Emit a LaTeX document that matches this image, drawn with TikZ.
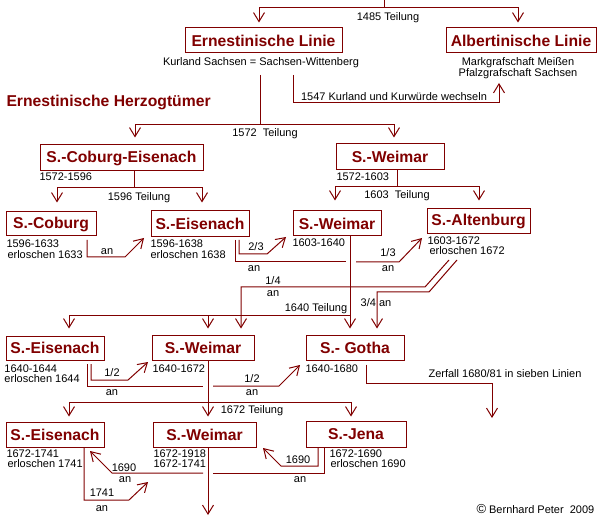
\documentclass[tikz,border=0pt]{standalone}
\usepackage{fontspec}
\setmainfont{Liberation Sans}
\usetikzlibrary{arrows.meta}
\definecolor{mr}{HTML}{800000}
\begin{document}
\begin{tikzpicture}[x=1pt,y=-1pt,line width=1pt,color=mr,
  box/.style={draw=mr,text=mr,font=\fontsize{15.7}{18}\selectfont\bfseries,inner sep=0pt,line width=1pt},
  lbl/.style={text=black,font=\fontsize{11}{12}\selectfont,inner sep=0pt,text height=8pt,text depth=0pt},
  lw/.style={lbl,anchor=west},
  arr/.style={-{Straight Barb[length=9pt,width=11pt]}}]
\useasboundingbox (0,0) rectangle (599,518);
% boxes
\node[box,minimum width=157pt,minimum height=25pt] (ern) at (263.5,40.5) {Ernestinische Linie};
\node[box,minimum width=150pt,minimum height=25pt] (alb) at (521,40.5) {Albertinische Linie};
\node[box,minimum width=163pt,minimum height=26pt] (sce) at (121.5,158) {S.-Coburg-Eisenach};
\node[box,minimum width=108pt,minimum height=26pt] (sw1) at (390,157) {S.-Weimar};
\node[box,minimum width=90pt,minimum height=24pt] (scob) at (51,224) {S.-Coburg};
\node[box,minimum width=98pt,minimum height=26pt] (sei1) at (200,224) {S.-Eisenach};
\node[box,minimum width=88pt,minimum height=25pt] (sw2) at (337,223.5) {S.-Weimar};
\node[box,minimum width=103pt,minimum height=25pt] (salt) at (478.5,221.5) {S.-Altenburg};
\node[box,minimum width=98pt,minimum height=24pt] (sei2) at (55,348) {S.-Eisenach};
\node[box,minimum width=102pt,minimum height=25pt] (sw3) at (203,347.5) {S.-Weimar};
\node[box,minimum width=98pt,minimum height=25pt] (sgo) at (355,347.5) {S.- Gotha};
\node[box,minimum width=98pt,minimum height=25pt] (sei3) at (55,434.5) {S.-Eisenach};
\node[box,minimum width=103pt,minimum height=25pt] (sw4) at (204.5,434.5) {S.-Weimar};
\node[box,minimum width=100pt,minimum height=26pt] (sjena) at (356,434) {S.-Jena};
% heading
\node[font=\fontsize{15.7}{18}\selectfont\bfseries,text=mr,inner sep=0pt,anchor=base west] (head) at (6,107) {Ernestinische Herzogtümer};
% labels
\node[lbl] (t1485) at (388,17) {1485 Teilung};
\node[lbl] (tkur) at (261,62) {Kurland Sachsen = Sachsen-Wittenberg};
\node[lbl] (tmark) at (518,62) {Markgrafschaft Meißen};
\node[lbl] (tpfalz) at (518,73) {Pfalzgrafschaft Sachsen};
\node[lbl] (t1547) at (394,97) {1547 Kurland und Kurwürde wechseln};
\node[lbl] (t1572) at (265,133) {1572\ \ Teilung};
\node[lw] (d1) at (39,177) {1572-1596};
\node[lw] (d2) at (336,177) {1572-1603};
\node[lbl] (t1596) at (139,197) {1596 Teilung};
\node[lbl] (t1603) at (397,195) {1603\ \ Teilung};
\node[lw] (d3) at (6,244) {1596-1633};
\node[lw] (d3b) at (7,255) {erloschen 1633};
\node[lw] (d4) at (150,244) {1596-1638};
\node[lw] (d4b) at (150,255) {erloschen 1638};
\node[lw] (d5) at (292,243) {1603-1640};
\node[lw] (d6) at (427,241) {1603-1672};
\node[lw] (d6b) at (429,251) {erloschen 1672};
\node[lbl] (a1) at (107,251) {an};
\node[lbl] (f23) at (256,247) {2/3};
\node[lbl] (a2) at (254,268) {an};
\node[lbl] (f13) at (388,253) {1/3};
\node[lbl] (a3) at (388,268) {an};
\node[lbl] (f14) at (273,281) {1/4};
\node[lbl] (a4) at (273,293) {an};
\node[lbl] (t1640) at (316,307) {1640 Teilung};
\node[lbl] (f34) at (376,302) {3/4 an};
\node[lw] (d7) at (4,368) {1640-1644};
\node[lw] (d7b) at (4,378) {erloschen 1644};
\node[lw] (d8) at (152,368) {1640-1672};
\node[lw] (d9) at (305,368) {1640-1680};
\node[lbl] (f12a) at (112,372) {1/2};
\node[lbl] (a5) at (112,391) {an};
\node[lbl] (f12b) at (252,378) {1/2};
\node[lbl] (a6) at (252,391) {an};
\node[lbl] (tzer) at (505,373) {Zerfall 1680/81 in sieben Linien};
\node[lbl] (t1672) at (252,409) {1672 Teilung};
\node[lw] (d10) at (6,453) {1672-1741};
\node[lw] (d10b) at (7,463) {erloschen 1741};
\node[lw] (d11) at (153,453) {1672-1918};
\node[lw] (d11b) at (153,463) {1672-1741};
\node[lw] (d12) at (329,453) {1672-1690};
\node[lw] (d12b) at (330,463) {erloschen 1690};
\node[lbl] (y1) at (124,467) {1690};
\node[lbl] (a7) at (125,478) {an};
\node[lbl] (a8) at (300,478) {an};
\node[lbl] (y2) at (298,459) {1690};
\node[lbl] (y3) at (102,492) {1741};
\node[lbl] (a9) at (102,507) {an};
\node[lw] (copy) at (476,509) {{\fontsize{13}{12}\selectfont\textcopyright}\ Bernhard Peter\ \ 2009};
% connectors
\draw[arr,shorten >=5pt] (384,0) |- (259,8) -- (259,0 |- ern.north);
\draw[arr,shorten >=5pt] (384,8) -| (518,0 |- alb.north);
\draw[arr,shorten >=7pt] (260,75) |- (135,125) -- (135,0 |- sce.north);
\draw[arr,shorten >=6pt] (260,125) -| (394,0 |- sw1.north);
\draw[arr] (293,75) |- (499,103) -- (499,83);
\draw[arr,shorten >=9pt] (134,0 |- sce.south) |- (57,188) -- (57,0 |- scob.north);
\draw[arr,shorten >=8pt] (134,188) -| (202,0 |- sei1.north);
\draw[arr,shorten >=10pt] (397,0 |- sw1.south) |- (335,187) -- (335,0 |- sw2.north);
\draw[arr,shorten >=8pt] (397,187) -| (479,0 |- salt.north);
\draw[arr] (87,240) -- (87,257) -- (125,257) -- (144,238);
\draw[arr] (239,240) -- (239,254) -- (267,254) -- (286,237);
\draw (235,240) -- (235,262) -- (346,262);
\draw[arr] (356,262) -- (399,262) -- (422,238);
\draw[arr,shorten >=6pt] (350,0 |- sw2.south) -- (350,0 |- sgo.north);
\draw[arr,shorten >=7pt] (350,315) -| (69,0 |- sei2.north);
\draw[arr,shorten >=6pt] (208,315) -- (208,0 |- sw3.north);
\draw[arr,shorten >=6pt] (449,260) -- (425,287) -| (241,0 |- sw3.north);
\draw[arr,shorten >=6pt] (457,260) -- (429,292) -| (377,0 |- sgo.north);
\draw[arr] (91,364) -- (91,380) -- (128,380) -- (148,362);
\draw (87,364) -- (87,386) -- (203,386);
\draw[arr] (213,386) -- (279,386) -- (300,365);
\draw[arr,shorten >=5pt] (208,0 |- sw3.south) -- (208,0 |- sw4.north);
\draw[arr,shorten >=5pt] (208,402) -| (69,0 |- sei3.north);
\draw[arr,shorten >=4pt] (208,402) -| (351,0 |- sjena.north);
\draw (324,448) -- (324,473) -- (213,473);
\draw[arr] (203,473) -- (112,473) -- (90,451);
\draw[arr] (318,448) -- (318,466) -- (281,466) -- (263,448);
\draw[arr] (84,448) -- (84,500) -- (129,500) -- (148,482);
\draw[arr] (208,0 |- sw4.south) -- (208,515);
\draw[arr] (366,0 |- sgo.south) ++(0,4) -- (366,383) -- (492,383) -- (492,418);
\end{tikzpicture}
\end{document}
